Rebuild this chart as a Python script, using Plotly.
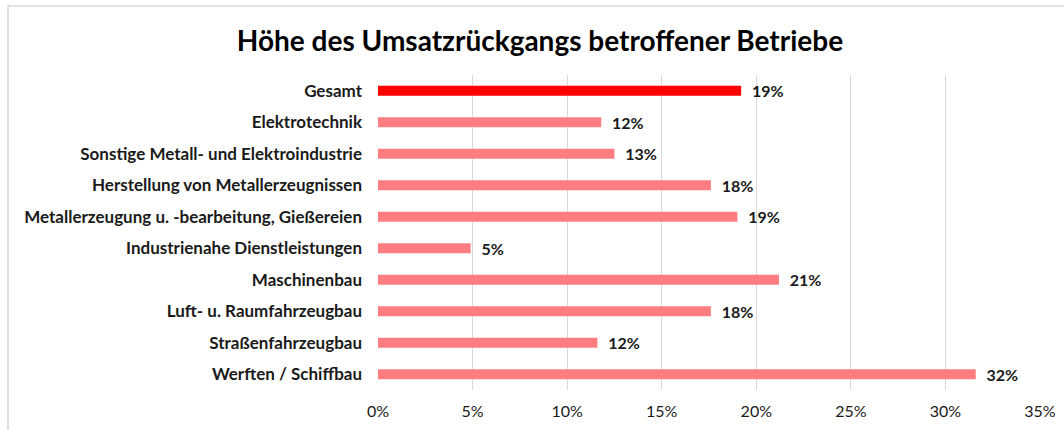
import plotly.graph_objects as go

categories = [
    "Gesamt",
    "Elektrotechnik",
    "Sonstige Metall- und Elektroindustrie",
    "Herstellung von Metallerzeugnissen",
    "Metallerzeugung u. -bearbeitung, Gießereien",
    "Industrienahe Dienstleistungen",
    "Maschinenbau",
    "Luft- u. Raumfahrzeugbau",
    "Straßenfahrzeugbau",
    "Werften / Schiffbau",
]
values = [0.192, 0.118, 0.125, 0.176, 0.190, 0.049, 0.212, 0.176, 0.116, 0.316]
labels = ["19%", "12%", "13%", "18%", "19%", "5%", "21%", "18%", "12%", "32%"]
colors = ["#FF0000"] + ["#FF7C80"] * 9
x_ticks = [0, 0.05, 0.10, 0.15, 0.20, 0.25, 0.30, 0.35]
x_tick_text = ["0%", "5%", "10%", "15%", "20%", "25%", "30%", "35%"]

fig = go.Figure(
    go.Bar(
        x=values,
        y=categories,
        orientation="h",
        marker=dict(color=colors, line=dict(width=0)),
        text=["\u00a0\u00a0" + t for t in labels],
        textposition="outside",
        constraintext="none",
        textfont=dict(family="Lato", size=16, color="#1a1a1a", weight="bold"),
        cliponaxis=False,
        hoverinfo="skip",
    )
)

fig.update_layout(
    width=1064,
    height=430,
    margin=dict(l=378, r=24, t=75, b=40, autoexpand=False),
    paper_bgcolor="white",
    plot_bgcolor="white",
    bargap=0.68,
    showlegend=False,
    title=dict(
        text="<b>Höhe des Umsatzrückgangs betroffener Betriebe</b>",
        x=0.5075,
        xanchor="center",
        y=0.905,
        yanchor="middle",
        font=dict(family="Lato", size=28, color="#000000"),
    ),
    xaxis=dict(
        range=[0, 0.35],
        tickvals=x_ticks,
        ticktext=x_tick_text,
        showgrid=True,
        gridcolor="#D9D9D9",
        gridwidth=1,
        zeroline=False,
        showline=False,
        automargin=False,
        tickfont=dict(family="Lato", size=16, color="#1a1a1a"),
        ticklabelstandoff=10,
        fixedrange=True,
    ),
    yaxis=dict(
        categoryorder="array",
        categoryarray=categories,
        autorange="reversed",
        showgrid=False,
        zeroline=False,
        showline=False,
        automargin=False,
        tickfont=dict(family="Lato", size=17, color="#1a1a1a", weight="bold"),
        ticklabelstandoff=15,
        fixedrange=True,
    ),
    shapes=[
        dict(
            type="rect",
            xref="paper",
            yref="paper",
            x0=(8 - 378) / 662,
            x1=1.2,
            y0=-0.3,
            y1=1 + (75 - 6) / 315,
            line=dict(color="#D9D9D9", width=1.5),
            fillcolor="rgba(0,0,0,0)",
            layer="below",
        )
    ],
)

fig.write_html(
    "out.html",
    config={"displayModeBar": False},
    post_script="document.body.style.margin='0';document.body.style.overflow='hidden';",
)
